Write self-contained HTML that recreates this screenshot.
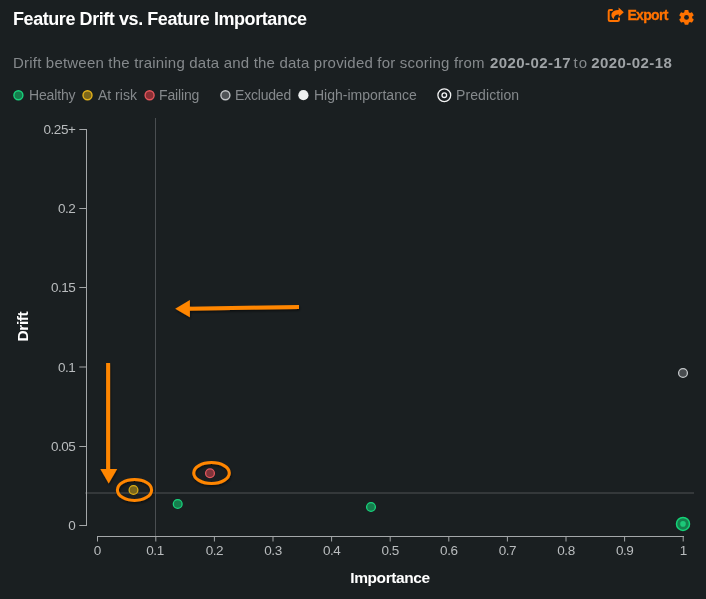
<!DOCTYPE html>
<html lang="en">
<head>
<meta charset="utf-8">
<title>Feature Drift vs. Feature Importance</title>
<style>
  html, body { margin: 0; padding: 0; }
  body {
    width: 706px; height: 599px; overflow: hidden; position: relative;
    background: #1a1f21;
    font-family: "Liberation Sans", sans-serif;
    color: #85898c;
  }
  .abs { position: absolute; white-space: nowrap; line-height: 1; }
  #title { left: 13px; top: 10px; font-size: 18px; font-weight: bold; color: #ffffff; letter-spacing: -0.43px; }
  #export { left: 627.4px; top: 8.3px; font-size: 14px; font-weight: bold; color: #ff7200; letter-spacing: -0.65px; -webkit-text-stroke: 0.3px #ff7200; }
  .sub { top: 55px; font-size: 15px; color: #85898c; }
  .sub b { color: #9ea2a5; }
  .leg { font-size: 14px; color: #85898c; top: 88px; }
  svg { position: absolute; left: 0; top: 0; }
  svg text { font-family: "Liberation Sans", sans-serif; }
</style>
</head>
<body>
<div id="title" class="abs">Feature Drift vs. Feature Importance</div>
<div id="export" class="abs">Export</div>
<div id="subtitle">
  <span class="abs sub" id="s1" style="left:13px; letter-spacing:0.2px">Drift between the training data and the data provided for scoring from</span>
  <span class="abs sub" id="s2" style="left:490px; letter-spacing:0.42px"><b>2020-02-17</b></span>
  <span class="abs sub" id="s3" style="left:573.6px; letter-spacing:0.9px">to</span>
  <span class="abs sub" id="s4" style="left:591.3px; letter-spacing:0.42px"><b>2020-02-18</b></span>
</div>

<div id="legend">
  <div class="abs leg" style="left:29px; letter-spacing:-0.15px">Healthy</div>
  <div class="abs leg" style="left:98px">At risk</div>
  <div class="abs leg" style="left:159px; letter-spacing:-0.15px">Failing</div>
  <div class="abs leg" style="left:235px; letter-spacing:-0.2px">Excluded</div>
  <div class="abs leg" style="left:314px">High-importance</div>
  <div class="abs leg" style="left:456px; letter-spacing:0.1px">Prediction</div>
</div>

<svg width="706" height="599" viewBox="0 0 706 599">
  <defs>
    <filter id="sh" x="-20%" y="-40%" width="140%" height="200%">
      <feDropShadow dx="0.6" dy="1.6" stdDeviation="1.3" flood-color="#000000" flood-opacity="0.55"/>
    </filter>
  </defs>

  <!-- header icons -->
  <g id="icon-export">
    <path d="M612.7 10 H610 Q608.7 10 608.7 11.3 V19.8 Q608.7 21.1 610 21.1 H617.7 Q619 21.1 619 19.8 V17.4" fill="none" stroke="#ff7200" stroke-width="2"/>
    <path d="M618.6 7.5 L623.8 12.2 L618.8 16.8 V14.6 C616 14.5 614.2 15.6 613.6 19.3 C609.8 16 610.6 10.3 618.6 10.1 Z" fill="#ff7200"/>
  </g>
  <g id="icon-gear" transform="translate(686.5 17.4)">
    <g fill="#ff7200">
      <rect x="-2.1" y="-7.4" width="4.2" height="14.8" rx="1"/>
      <rect x="-2.1" y="-7.4" width="4.2" height="14.8" rx="1" transform="rotate(60)"/>
      <rect x="-2.1" y="-7.4" width="4.2" height="14.8" rx="1" transform="rotate(120)"/>
      <circle r="5.7"/>
    </g>
    <circle r="2.4" fill="#1a1f21"/>
  </g>

  <!-- legend markers -->
  <circle cx="18.4" cy="95.2" r="4.5" fill="#167d4d" stroke="#18d27c" stroke-width="1.4"/>
  <circle cx="87.5" cy="95.2" r="4.5" fill="#7c671b" stroke="#e4b21a" stroke-width="1.4"/>
  <circle cx="149.6" cy="95.2" r="4.5" fill="#8a2f34" stroke="#e4565c" stroke-width="1.4"/>
  <circle cx="225.4" cy="95.2" r="4.5" fill="#4f5356" stroke="#c2c5c7" stroke-width="1.4"/>
  <circle cx="303.4" cy="95.2" r="5.1" fill="#eef0f0"/>
  <circle cx="444.3" cy="95.2" r="6.4" fill="none" stroke="#f2f3f3" stroke-width="1.3"/>
  <circle cx="444.3" cy="95.2" r="2.3" fill="none" stroke="#f2f3f3" stroke-width="1.3"/>

  <!-- threshold lines -->
  <line x1="155.5" y1="118" x2="155.5" y2="536" stroke="#4a4e51" stroke-width="1"/>
  <line x1="85" y1="493" x2="694" y2="493" stroke="#4e5255" stroke-width="1"/>

  <!-- y axis -->
  <g stroke="#a4a7a9" stroke-width="1" fill="none">
    <line x1="86.5" y1="129" x2="86.5" y2="526"/>
    <line x1="79.3" y1="129.5" x2="87" y2="129.5"/><line x1="79.3" y1="208.5" x2="87" y2="208.5"/><line x1="79.3" y1="287.5" x2="87" y2="287.5"/><line x1="79.3" y1="367" x2="87" y2="367"/><line x1="79.3" y1="446.5" x2="87" y2="446.5"/><line x1="79.3" y1="525.5" x2="87" y2="525.5"/>
  </g>
  <g font-size="13.5" letter-spacing="-0.45" fill="#b9bcbe" text-anchor="end"><text x="75.4" y="134.3">0.25+</text><text x="75.4" y="213.3">0.2</text><text x="75.4" y="292.3">0.15</text><text x="75.4" y="371.8">0.1</text><text x="75.4" y="451.3">0.05</text><text x="75.4" y="530.3">0</text></g>

  <!-- x axis -->
  <g stroke="#a4a7a9" stroke-width="1" fill="none">
    <line x1="97" y1="536.5" x2="684" y2="536.5"/>
    <line x1="97.5" y1="536" x2="97.5" y2="541.5"/><line x1="155.8" y1="536" x2="155.8" y2="541.5"/><line x1="214.4" y1="536" x2="214.4" y2="541.5"/><line x1="273.0" y1="536" x2="273.0" y2="541.5"/><line x1="331.6" y1="536" x2="331.6" y2="541.5"/><line x1="390.2" y1="536" x2="390.2" y2="541.5"/><line x1="448.8" y1="536" x2="448.8" y2="541.5"/><line x1="507.4" y1="536" x2="507.4" y2="541.5"/><line x1="566.0" y1="536" x2="566.0" y2="541.5"/><line x1="624.6" y1="536" x2="624.6" y2="541.5"/><line x1="683.2" y1="536" x2="683.2" y2="541.5"/>
  </g>
  <g font-size="13.5" letter-spacing="-0.45" fill="#b9bcbe" text-anchor="middle"><text x="97.4" y="555.2">0</text><text x="155.0" y="555.2">0.1</text><text x="214.4" y="555.2">0.2</text><text x="273.0" y="555.2">0.3</text><text x="331.6" y="555.2">0.4</text><text x="390.2" y="555.2">0.5</text><text x="448.8" y="555.2">0.6</text><text x="507.4" y="555.2">0.7</text><text x="566.0" y="555.2">0.8</text><text x="624.6" y="555.2">0.9</text><text x="683.4" y="555.2">1</text></g>

  <!-- axis titles -->
  <text x="390" y="583.4" font-size="15.5" font-weight="bold" fill="#ffffff" text-anchor="middle" letter-spacing="-0.42">Importance</text>
  <text transform="translate(28.2 326.6) rotate(-90)" font-size="15.5" font-weight="bold" fill="#ffffff" text-anchor="middle" letter-spacing="-0.4">Drift</text>

  <!-- data points -->
  <circle cx="133.5" cy="490" r="4.4" fill="#7c671b" stroke="#dcae14" stroke-width="1.25"/>
  <circle cx="210" cy="473.3" r="4.4" fill="#80343a" stroke="#e2575d" stroke-width="1.3"/>
  <circle cx="177.7" cy="504" r="4.4" fill="#167d4d" stroke="#18d27c" stroke-width="1.3"/>
  <circle cx="371" cy="507" r="4.4" fill="#167d4d" stroke="#18d27c" stroke-width="1.3"/>
  <circle cx="683" cy="373" r="4.4" fill="#484c4f" stroke="#c4c7c9" stroke-width="1.3"/>
  <circle cx="683" cy="523.9" r="6.5" fill="#15814e" stroke="#14d277" stroke-width="1.5"/>
  <circle cx="683" cy="523.9" r="2.8" fill="#1cc878"/>

  <!-- annotations -->
  <g filter="url(#sh)">
    <g fill="none" stroke="#ff8600" stroke-width="3">
      <ellipse cx="134.5" cy="489.9" rx="17.1" ry="10.5"/>
      <ellipse cx="211.5" cy="473" rx="17.8" ry="10.4"/>
    </g>
    <g stroke="#ff8600" stroke-width="4" fill="#ff8600">
      <line x1="299" y1="307" x2="188" y2="308.7"/>
      <polygon points="175.2,308.8 189.9,300 189.9,317.3" stroke="none"/>
      <line x1="108.1" y1="363" x2="108.1" y2="470"/>
      <polygon points="108.7,483.5 100.3,469 117.2,469" stroke="none"/>
    </g>
  </g>
</svg>
</body>
</html>
